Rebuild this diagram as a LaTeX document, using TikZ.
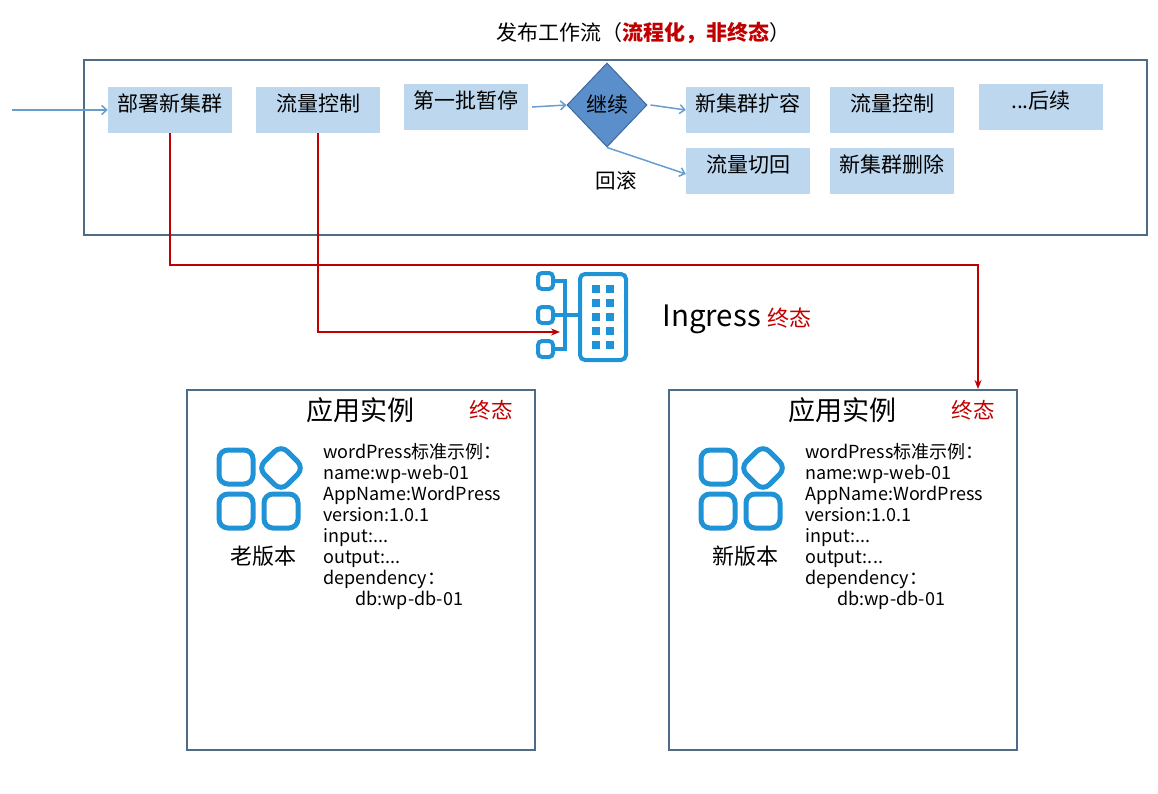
\documentclass[tikz,border=0pt]{standalone}
\usepackage{fontspec}
\setmainfont{Noto Sans CJK SC}
\usetikzlibrary{shapes.geometric,arrows.meta}
\definecolor{boxblue}{RGB}{189,215,238}
\definecolor{framegray}{RGB}{79,108,134}
\definecolor{flowblue}{RGB}{104,157,206}
\definecolor{darkred}{RGB}{192,0,0}
\definecolor{iconblue}{RGB}{32,146,214}
\definecolor{diafill}{RGB}{91,143,203}
\definecolor{diaedge}{RGB}{60,105,160}

\begin{document}
\begin{tikzpicture}[x=1pt,y=-1pt,
  stepbox/.style={fill=boxblue,minimum width=124pt,minimum height=46pt,inner sep=0pt,text height=18pt,text depth=15pt,font=\fontsize{21}{24}\selectfont},
  decide/.style={diamond,draw=diaedge,fill=diafill,line width=1pt,minimum width=80pt,minimum height=84pt,inner sep=0pt,font=\fontsize{21}{24}\selectfont},
  flow/.style={draw=flowblue,line width=1.5pt,-{Straight Barb[length=5pt,width=9pt]}},
  link/.style={draw=darkred,line width=1.8pt,-{Stealth[length=9pt,width=7pt]}},
  appbox/.style={draw=framegray,line width=2pt,minimum width=348pt,minimum height=360pt},
  iconline/.style={draw=iconblue,line width=5pt,rounded corners=9pt}]
  \useasboundingbox (0,0) rectangle (1158,794);

  \node (title) at (643,33) {\fontsize{21}{24}\selectfont 发布工作流（\textcolor{darkred}{\bfseries 流程化，非终态}）};
  \draw[framegray,line width=2.5pt] (84,60) rectangle (1147,235);

  \node[stepbox] (deploy) at (170,110) {部署新集群};
  \node[stepbox] (flow1) at (318,110) {流量控制};
  \node[stepbox] (pause) at (466,107) {第一批暂停};
  \node[decide] (cont) at (607,105) {继续};
  \node[stepbox] (expand) at (748,110) {新集群扩容};
  \node[stepbox] (flow2) at (892,110) {流量控制};
  \node[stepbox] (later) at (1041,107) {...后续};
  \node[stepbox] (back) at (748,171) {流量切回};
  \node[stepbox] (delete) at (892,171) {新集群删除};
  \node[font=\fontsize{20.5}{24}\selectfont] (rollback) at (616,181) {回滚};

  \coordinate (start) at (12,110);
  \draw[flow] (start) -- (deploy);
  \draw[flow] ([xshift=4pt]pause.east) -- (cont.west);
  \draw[flow] ([xshift=3pt]cont.east) -- (expand.west);
  \draw[flow] (cont.south) -- ([yshift=-3pt]back.west);

  % ingress icon
  \draw[iconblue,line width=4pt,rounded corners=5pt] (580,274) rectangle (626,360);
  \foreach \c in {596,610}{ \foreach \r in {289,303,317,331,345}{\fill[iconblue] (\c-4,\r-4) rectangle (\c+4,\r+4); }}
  \foreach \r in {281,315,349}{ \draw[iconblue,line width=4pt,rounded corners=4pt] (538,\r-8) rectangle (553,\r+8); }
  \draw[iconblue,line width=4pt] (553,281) -- (565,281) -- (565,349) -- (553,349) (553,315) -- (580,315);
  \coordinate (ingressin) at (560,332);
  \node[anchor=west] (ingress) at (659,319) {\fontsize{29.5}{34}\selectfont Ingress \textcolor{darkred}{\fontsize{22}{26}\selectfont 终态}};

  % app instances
  \foreach \dx/\ver/\nm in {0/老版本/old,482/新版本/new}{
    \begin{scope}[xshift=\dx]
      \node[appbox] (\nm box) at (361,570) {};
      \node (\nm title) at (360,410) {\fontsize{27}{30}\selectfont 应用实例};
      \node[text=darkred] (\nm state) at (491,410) {\fontsize{21.5}{24}\selectfont 终态};
      \draw[iconline] (219,450) rectangle (253,484);
      \draw[iconline] (219,494) rectangle (253,528);
      \draw[iconline] (264,494) rectangle (298,528);
      \draw[iconline] (258,468) -- (281,445) -- (304,468) -- (281,491) -- cycle;
      \node (\nm ver) at (263,556) {\fontsize{22}{26}\selectfont \ver};
      \node[anchor=north west,align=left,inner sep=0pt,font=\fontsize{18}{21}\selectfont] (\nm spec) at (323,443)
        {wordPress标准示例：\\name:wp-web-01\\AppName:WordPress\\version:1.0.1\\input:...\\output:...\\dependency：\\\hspace*{32pt}db:wp-db-01};
    \end{scope}
  }

  \coordinate (turn) at (978,265);
  \draw[link] (deploy.south) |- (turn) -- (newbox.north -| turn);
  \draw[link] (flow1.south) |- (ingressin);
\end{tikzpicture}
\end{document}
